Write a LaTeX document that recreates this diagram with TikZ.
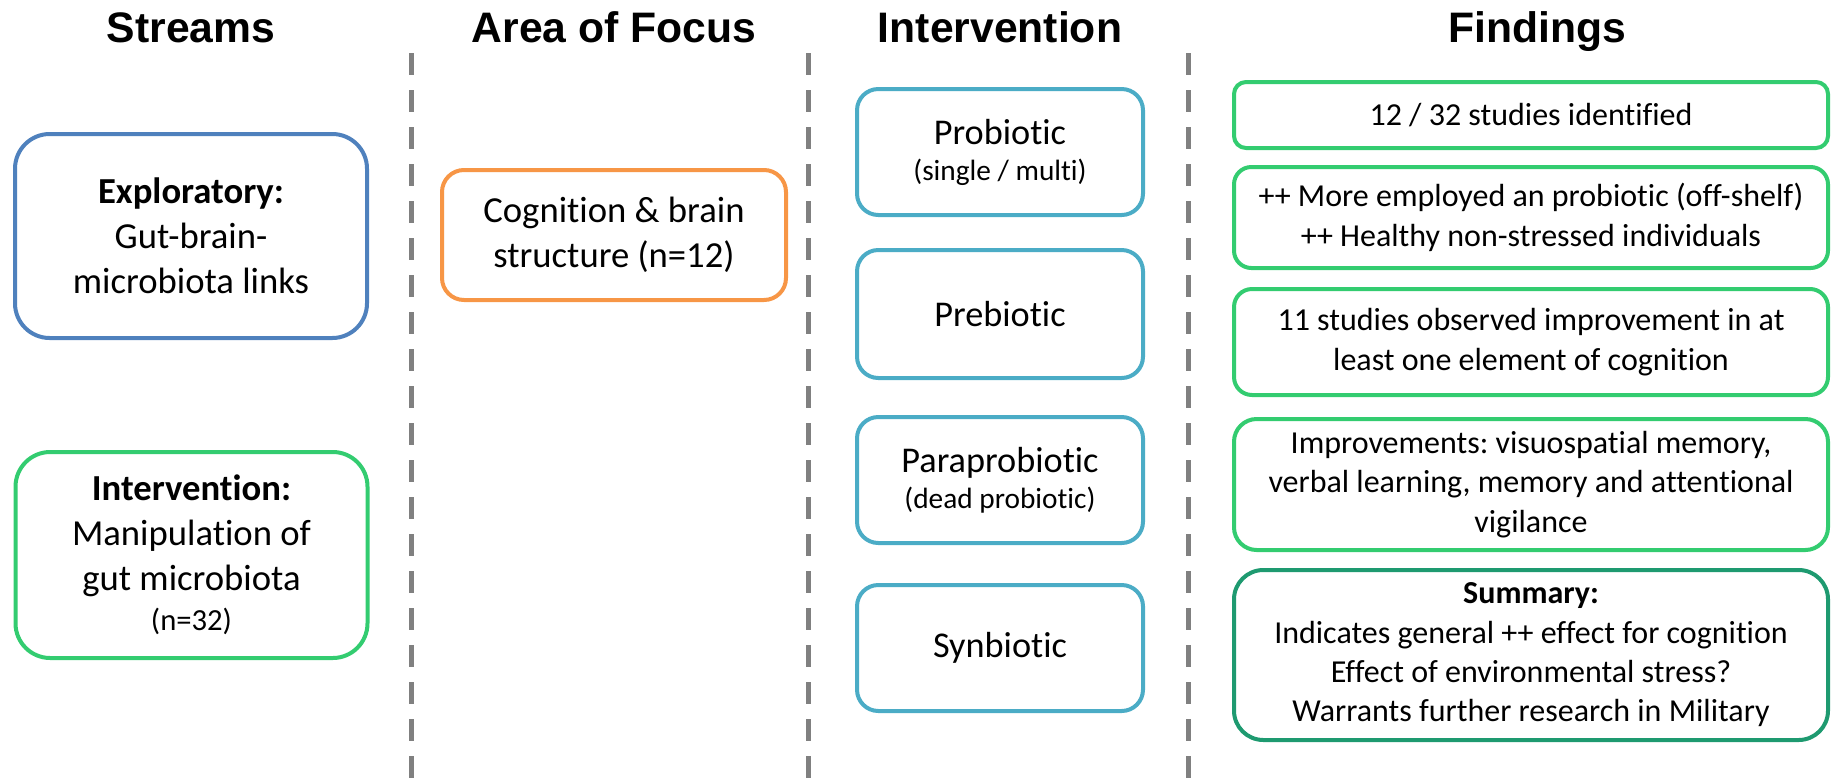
\documentclass[tikz,border=0pt]{standalone}
\usepackage{fontspec}
\setmainfont{Carlito}[Ligatures={NoCommon,NoRequired,NoContextual,NoDiscretionary}]
\newfontfamily\hdrfont{Liberation Sans}
\definecolor{cblue}{HTML}{4F81BD}
\definecolor{cgreen}{HTML}{33CC70}
\definecolor{corange}{HTML}{F79646}
\definecolor{cteal}{HTML}{4BACC6}
\definecolor{cdgreen}{HTML}{1E9A70}
\definecolor{cgray}{HTML}{808080}
\newcommand\streamfont{\fontsize{27.5}{33.75}\selectfont}
\newcommand\intfont{\fontsize{27.2}{33}\selectfont}
\newcommand\subfont{\fontsize{22}{27}\selectfont}
\newcommand\fndfont{\fontsize{24}{29.5}\selectfont}
\newcommand\tI{t\kern0pt i}
\frenchspacing
\begin{document}
\begin{tikzpicture}[x=0.75pt,y=-0.75pt,
  box/.style={draw, line width=3pt, fill=white, align=center, inner sep=0pt},
  header/.style={font=\hdrfont\bfseries\fontsize{32}{38}\selectfont, anchor=base, inner sep=0pt},
  sep/.style={draw=cgray, line width=3.75pt, dash pattern=on 16.5pt off 11.25pt},
  streambox/.style={box, minimum width=264pt, minimum height=153pt, rounded corners=26pt, font=\streamfont},
  intbox/.style={box, draw=cteal, minimum width=214.5pt, minimum height=94.5pt, rounded corners=16pt, font=\intfont},
  fndbox/.style={box, draw=cgreen, minimum width=445.5pt, font=\fndfont}]
\useasboundingbox (0,0) rectangle (1835,783);

% headers
\node[header] (h1) at (191,42) {Streams};
\node[header] (h2) at (614,42) {Area of Focus};
\node[header] (h3) at (1000,42) {Intervention};
\node[header] (h4) at (1537,42) {Findings};

% separators
\coordinate (s1t) at (411,53); \coordinate (s1b) at (411,800);
\coordinate (s2t) at (808,53); \coordinate (s2b) at (808,800);
\coordinate (s3t) at (1188,53); \coordinate (s3b) at (1188,800);
\draw[sep] (s1t) -- (s1b);
\draw[sep] (s2t) -- (s2b);
\draw[sep] (s3t) -- (s3b);

% streams
\node[streambox, draw=cblue] (expl) at (191,236)
  {\textbf{Exploratory:}\\Gut-brain-\\microbiota links};
\node[streambox, draw=cgreen, minimum height=154.5pt] (intv) at (191.5,555)
  {\textbf{Interven\tI on:}\\Manipula\tI on of\\gut microbiota\\[-4pt]{\fontsize{23}{28}\selectfont (n=32)}};

% area of focus
\node[box, draw=corange, minimum width=258pt, minimum height=97.5pt, rounded corners=16.5pt, font=\streamfont] (cog) at (614,235)
  {Cogni\tI on \& brain\\structure (n=12)};

% interventions
\node[intbox] (pro) at (1000,152) {Probio\tI c\\[-6pt]{\subfont (single / mul\tI)}};
\node[intbox, minimum height=96pt] (pre) at (1000,314) {Prebio\tI c};
\node[intbox] (para) at (1000,480) {Paraprobio\tI c\\[-6pt]{\subfont (dead probio\tI c)}};
\node[intbox] (syn) at (1000,648) {Synbio\tI c};

% findings
\node[fndbox, minimum height=49.5pt, rounded corners=9pt] (f1) at (1531,115) {12 / 32 studies iden\tI fied};
\node[fndbox, minimum height=75.75pt, rounded corners=13pt] (f2) at (1531,217.5)
  {++ More employed an probio\tI c (off-shelf)\\++ Healthy non-stressed individuals};
\node[fndbox, minimum height=79.5pt, rounded corners=13.5pt] (f3) at (1531,342)
  {11 studies observed improvement in at\\least one element of cogni\tI on};
\node[fndbox, minimum height=98.25pt, rounded corners=17pt] (f4) at (1531,484.5)
  {Improvements: visuospa\tI al memory,\\verbal learning, memory and atten\tI onal\\vigilance};
\node[fndbox, draw=cdgreen, minimum height=127.5pt, rounded corners=22pt] (f5) at (1531,655)
  {\textbf{Summary:}\\Indicates general ++ effect for cogni\tI on\\Effect of environmental stress?\\Warrants further research in Military};
\end{tikzpicture}
\end{document}
